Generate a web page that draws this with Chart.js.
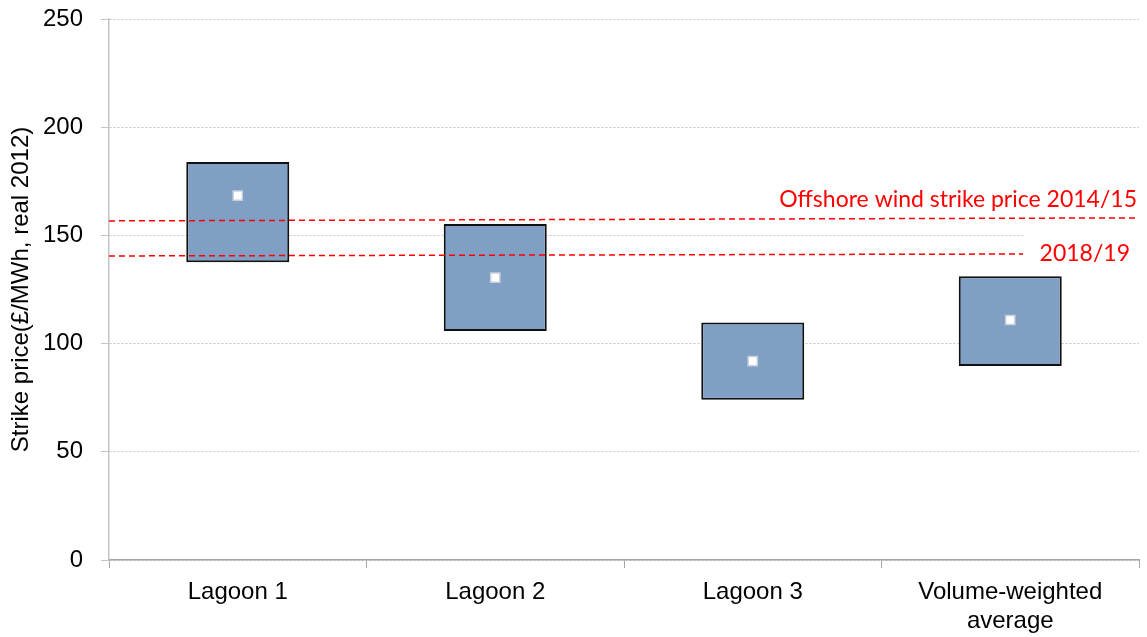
<!DOCTYPE html>
<html>
<head>
<meta charset="utf-8">
<script src="https://cdn.jsdelivr.net/npm/chart.js@4.4.1/dist/chart.umd.min.js"></script>
<style>
  html, body { margin: 0; padding: 0; background: #fff; }
  #strikeChart { display: block; }
</style>
</head>
<body>
<canvas id="strikeChart" width="1147" height="637"></canvas>
<script>
// Chart data
const categories = ['Lagoon 1', 'Lagoon 2', 'Lagoon 3', ['Volume-weighted', 'average']];
const rangeLow = [137.6, 105.8, 74.0, 89.6];
const rangeHigh = [183.9, 155.3, 109.8, 131.1];
const centralValue = [168.4, 130.5, 91.9, 110.9];

// Offshore wind reference lines (start / end value, span in category units)
const offshore1415 = [156.7, 158.1];
const offshore1415Span = [0, 4];
const offshore1819 = [140.5, 141.4];
const offshore1819Span = [0, 3.55];

const yTicks = [0, 50, 100, 150, 200, 250];

const AXIS_FONT = { family: "'Liberation Sans', Arial, sans-serif", size: 24 };
const NOTE_FONT = "23px Lato, 'Open Sans', sans-serif";

function spanPoints(values, span) {
  return values.map((v, i) => ({ x: span[i], y: v }));
}

// Annotation labels for the dashed lines
const offshoreLabels = {
  id: 'offshoreLabels',
  beforeDatasetsDraw(chart) {
    // white text box behind the 2018/19 label (hides the gridline there)
    const { ctx, chartArea } = chart;
    const y = chart.scales.y.getPixelForValue(offshore1819[1]);
    const xEnd = chart.scales.xl.getPixelForValue(offshore1819Span[1]);
    ctx.save();
    ctx.fillStyle = '#fff';
    ctx.fillRect(xEnd + 2, y - 24, chartArea.right - xEnd, 44);
    ctx.restore();
  },
  afterDatasetsDraw(chart) {
    const { ctx, chartArea } = chart;
    const yScale = chart.scales.y;
    ctx.save();
    ctx.font = NOTE_FONT;
    ctx.fillStyle = '#ff0000';
    ctx.textAlign = 'right';
    ctx.textBaseline = 'middle';
    ctx.fillText('Offshore wind strike price 2014/15', chartArea.right - 2, yScale.getPixelForValue(offshore1415[1]) - 18);
    ctx.fillText('2018/19', chartArea.right - 9, yScale.getPixelForValue(offshore1819[1]));
    ctx.restore();
  }
};

function renderChart() {
  const ctx = document.getElementById('strikeChart');

  new Chart(ctx, {
    type: 'bar',
    data: {
      labels: categories,
      datasets: [
        {
          label: 'Offshore 2014/15',
          type: 'line',
          xAxisID: 'xl',
          data: spanPoints(offshore1415, offshore1415Span),
          borderColor: '#ff0000',
          borderWidth: 1.5,
          borderDash: [6, 4],
          pointRadius: 0,
          clip: { left: 0, top: 0, bottom: 0, right: 10 },
          order: 0
        },
        {
          label: 'Offshore 2018/19',
          type: 'line',
          xAxisID: 'xl',
          data: spanPoints(offshore1819, offshore1819Span),
          borderColor: '#ff0000',
          borderWidth: 1.5,
          borderDash: [6, 4],
          pointRadius: 0,
          order: 0
        },
        {
          label: 'Central',
          type: 'line',
          data: centralValue,
          showLine: false,
          pointStyle: 'rect',
          pointRadius: 6.5,
          pointBackgroundColor: '#ffffff',
          pointBorderColor: '#c9cfd8',
          pointBorderWidth: 1.5,
          order: 1
        },
        {
          label: 'Range',
          data: rangeLow.map((lo, i) => [lo, rangeHigh[i]]),
          backgroundColor: '#7f9fc5',
          borderColor: '#111111',
          borderWidth: 2,
          borderSkipped: false,
          grouped: false,
          barPercentage: 0.4,
          categoryPercentage: 1,
          order: 2
        }
      ]
    },
    options: {
      responsive: false,
      animation: false,
      layout: { padding: { top: 19, right: 8, bottom: 0, left: 0 } },
      plugins: {
        legend: { display: false },
        tooltip: { enabled: false }
      },
      scales: {
        x: {
          grid: {
            drawOnChartArea: false,
            drawTicks: true,
            tickLength: 8,
            tickColor: '#a6a6a6'
          },
          border: { color: '#a6a6a6', width: 1.5 },
          ticks: { color: '#000', font: AXIS_FONT, padding: 10, maxRotation: 0 },
          afterFit(scale) { scale.height = 77; }
        },
        xl: {
          type: 'linear',
          axis: 'x',
          position: 'bottom',
          display: false,
          offset: false,
          min: 0,
          max: 4
        },
        y: {
          min: 0,
          max: 250,
          afterBuildTicks(scale) { scale.ticks = yTicks.map(v => ({ value: v })); },
          grid: {
            color: '#c4c4c4',
            tickColor: '#c4c4c4',
            tickLength: 8,
            tickBorderDash: []
          },
          border: { color: '#c4c4c4', width: 1.5, dash: [2, 2] },
          ticks: { color: '#000', font: AXIS_FONT, padding: 18 },
          title: {
            display: true,
            text: 'Strike price(£/MWh, real 2012)',
            color: '#000',
            font: AXIS_FONT,
            padding: { top: 7, bottom: 0 }
          },
          afterFit(scale) {
            scale.width = 109;
            scale.paddingTop = 0;
            scale.paddingBottom = 0;
          }
        }
      }
    },
    plugins: [offshoreLabels]
  });
}

renderChart();
</script>
</body>
</html>
